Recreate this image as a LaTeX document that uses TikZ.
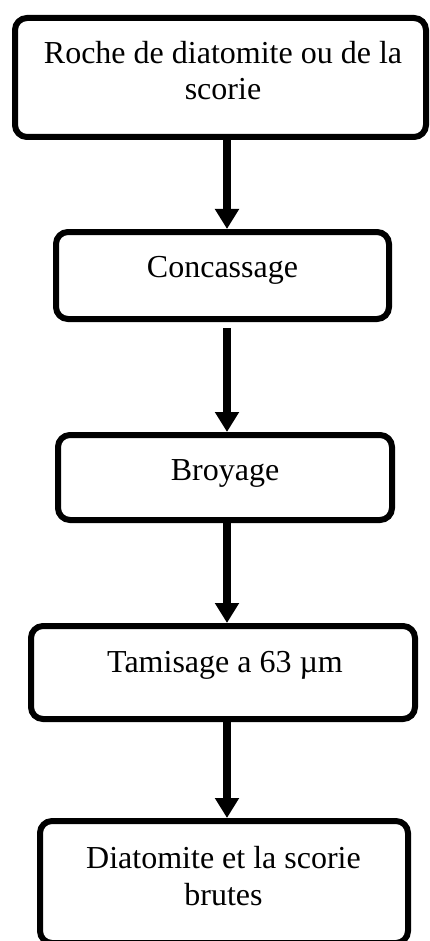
\documentclass[tikz,border=0pt]{standalone}
\usepackage{fontspec}
\setmainfont{Liberation Serif}
\usetikzlibrary{arrows.meta,calc}
\begin{document}
\begin{tikzpicture}[x=0.75pt,y=-0.75pt,
  box/.style={draw=black, line width=4.5pt, rounded corners=9pt, rectangle, inner sep=0pt, fill=none},
  txt/.style={font=\fontsize{24}{27.5}\selectfont, align=center, inner sep=0pt, anchor=base},
  arr/.style={line width=6pt, -{Triangle[width=17.25pt,length=15pt]}}]
\useasboundingbox (0,0) rectangle (429,941);
% boxes
\node[box, minimum width=308.25pt, minimum height=89.25pt] (b1) at (220.5,77.5) {};
\node[box, minimum width=249.75pt, minimum height=65.25pt] (b2) at (222.5,275.5) {};
\node[box, minimum width=250.5pt, minimum height=63.75pt] (b3) at (225,477.5) {};
\node[box, minimum width=288pt, minimum height=69.75pt] (b4) at (223,672.5) {};
\node[box, minimum width=276pt, minimum height=91.5pt] (b5) at (224,882) {};
% texts (multi-line nodes: base = last line)
\node[txt] (t1) at (223,100) {Roche de diatomite ou de la\\scorie};
\node[txt] (t2) at (222.5,277) {Concassage};
\node[txt] (t3) at (225,480) {Broyage};
\node[txt] (t4) at (225,672) {Tamisage a 63 µm};
\node[txt] (t5) at (223.5,905) {Diatomite et la scorie\\brutes};
% arrows
\coordinate (ax) at (227,0);
\draw[arr] (b1.south -| ax) -- (b2.north -| ax);
\draw[arr, shorten <=4.5pt] (b2.south -| ax) -- (b3.north -| ax);
\draw[arr] (b3.south -| ax) -- (b4.north -| ax);
\draw[arr] (b4.south -| ax) -- (b5.north -| ax);
\end{tikzpicture}
\end{document}
